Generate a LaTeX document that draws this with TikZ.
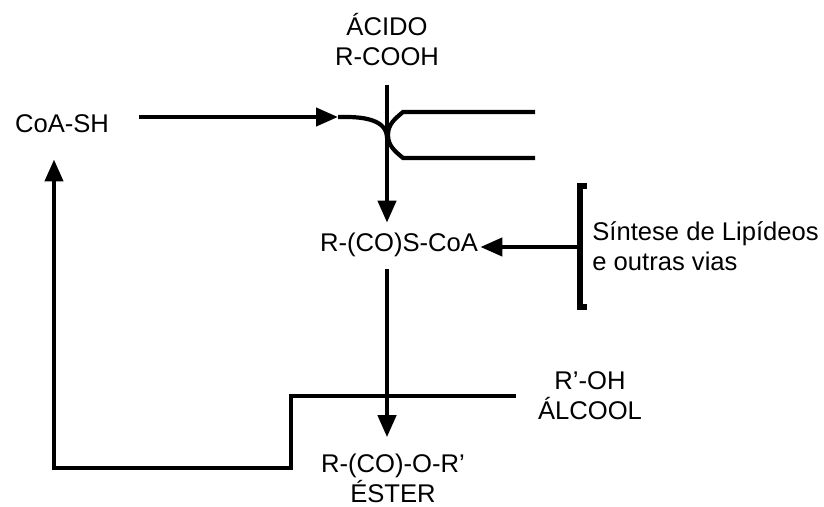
\documentclass[tikz,border=0pt]{standalone}
\usepackage{fontspec}
\setmainfont{Liberation Sans}
\usetikzlibrary{arrows.meta,positioning}

\begin{document}
\begin{tikzpicture}[
  x=0.5pt, y=-0.5pt,
  chem/.style={font=\fontsize{12.8}{15}\selectfont, align=center, inner sep=1pt},
  flow/.style={line width=2.1pt, -{Triangle[length=11pt,width=9pt]}},
  pipe/.style={line width=2.1pt},
  bracket/.style={line width=2.6pt},
]
\useasboundingbox (0,0) rectangle (824,507);

% --- Compounds ---
\node[chem] (acid) at (387,40) {ÁCIDO\\R-COOH};
\node[chem] (coash) at (62,124) {CoA-SH};
\node[chem] (acyl) at (399,245) {R-(CO)S-CoA};
\node[chem, align=left, anchor=west] (lipid) at (590,246) {Síntese de Lipídeos\\e outras vias};
\node[chem] (alcohol) at (590,396) {R’-OH\\ÁLCOOL};
\node[chem] (ester) at (393,478) {R-(CO)-O-R’\\ÉSTER};

% --- Junction points ---
\coordinate (tip) at (338,117);
\coordinate (join) at (387,138);
\coordinate (brmid) at (580,247);
\coordinate (step) at (291,468);
\coordinate (back) at (54,468);

% CoA-SH enters the acid
\draw[flow, shorten <=14pt] (coash.east |- tip) -- (tip);
\draw[pipe] (tip) -- ++(8,0) to[out=0,in=90] (join);
\draw[pipe] (535,112) -- (403,112) to[out=220,in=90] (388,135)
  to[out=-90,in=140] (403,158) -- (535,158);

% Acid to acyl-CoA
\draw[flow, shorten <=8pt, shorten >=4pt] (acid.south) -- (acid.south |- acyl.north);

% Other pathways
\draw[bracket] (587,186) -- (580,186) -- (580,307) -- (587,307);
\draw[flow] (brmid) -- (acyl.east |- brmid);

% Acyl-CoA to ester
\draw[flow, shorten <=5pt, shorten >=7pt] (acid.south |- acyl.south) -- (acid.south |- ester.north);

% Alcohol and return of CoA-SH
\draw[flow, shorten <=10pt, shorten >=12pt] (alcohol.west) -| (step) -- (back) -- (back |- coash.south);

\end{tikzpicture}
\end{document}
